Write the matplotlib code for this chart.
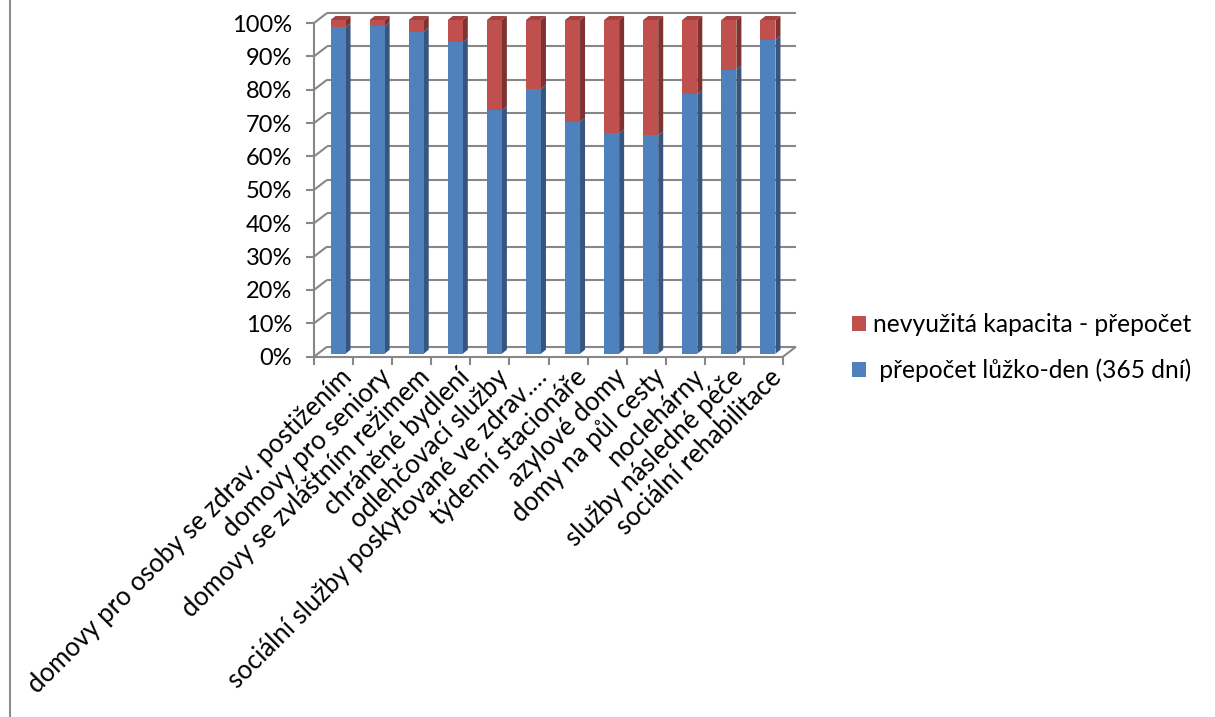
import matplotlib
matplotlib.use("Agg")
import matplotlib.pyplot as plt
from matplotlib.patches import Polygon, Patch
from matplotlib.lines import Line2D
from matplotlib.transforms import ScaledTranslation, IdentityTransform

# ---------------- data ----------------
categories = [
    "domovy pro osoby se zdrav. postižením",
    "domovy pro seniory",
    "domovy se zvláštním režimem",
    "chráněné bydlení",
    "odlehčovací služby",
    "sociální služby poskytované ve zdrav.…",
    "týdenní stacionáře",
    "azylové domy",
    "domy na půl cesty",
    "noclehárny",
    "služby následné péče",
    "sociální rehabilitace",
]
used_pct = [97.8, 98.1, 96.5, 93.3, 72.9, 79.4, 69.5, 66.0, 65.4, 77.7, 85.1, 94.0]
unused_pct = [2.2, 1.9, 3.5, 6.7, 27.1, 20.6, 30.5, 34.0, 34.6, 22.3, 14.9, 6.0]
series_used = " přepočet lůžko-den (365 dní)"
series_unused = "nevyužitá kapacita - přepočet"
yticks = [0, 10, 20, 30, 40, 50, 60, 70, 80, 90, 100]
ytick_labels = ["0%", "10%", "20%", "30%", "40%", "50%", "60%", "70%", "80%", "90%", "100%"]

# ---------------- style ----------------
W, H, DPI = 1215, 717, 100
FONT = ["Lato", "DejaVu Sans"]
plt.rcParams["font.family"] = FONT
FS_Y = 17
FS_CAT = 18.5
FS_LEG = 17.7
GRID = "#878787"
LW = 1.5
BLUE, BLUE_SIDE = "#4F81BD", "#36557F"
RED, RED_SIDE, RED_TOP = "#C0504D", "#7E3331", "#A24341"
BACK = (13, 10)      # depth of the back wall (px, display coords)
BAR_OFF = (4.5, 3)   # bar front face offset from front plane
BAR_DEPTH = (5, 4)   # bar depth
BAR_W = 0.384

fig = plt.figure(figsize=(W / DPI, H / DPI), dpi=DPI)
left_px, right_px, bot_px, top_px = 314, 783, 356.7, 23
ax = fig.add_axes([left_px / W, (H - bot_px) / H, (right_px - left_px) / W, (bot_px - top_px) / H])
n = len(categories)
ax.set_xlim(-0.5, n - 0.5)
ax.set_ylim(0, 100)
for s in ax.spines.values():
    s.set_visible(False)
ax.set_facecolor("none")

# y axis ticks and labels
ax.set_yticks(yticks)
ax.set_yticklabels(ytick_labels, fontsize=FS_Y, color="black")
ax.tick_params(axis="y", direction="out", length=8 * 0.72, width=LW, color=GRID, pad=14 * 0.72)
# x axis: ticks at category boundaries, labels placed manually
ax.set_xticks([i - 0.5 for i in range(n + 1)])
ax.set_xticklabels([])
ax.tick_params(axis="x", direction="out", length=8 * 0.72, width=LW, color=GRID)

def D(x, y, off=(0, 0)):
    px, py = ax.transData.transform((x, y))
    return (px + off[0], py + off[1])

def line(pts, z=1):
    xs = [p[0] for p in pts]
    ys = [p[1] for p in pts]
    fig.add_artist(Line2D(xs, ys, transform=IdentityTransform(), color=GRID, lw=LW,
                          zorder=z, solid_capstyle="butt"))

x0, x1 = -0.5, n - 0.5
# back wall gridlines and left wall diagonals
for yv in yticks:
    line([D(x0, yv, BACK), D(x1, yv, BACK)])
    line([D(x0, yv), D(x0, yv, BACK)])
# floor
line([D(x0, 0), D(x1, 0)])
line([D(x1, 0), D(x1, 0, BACK)])
# front vertical axis
line([D(x0, 0), D(x0, 100)], z=2)

def add_poly(pts, color, z):
    fig.add_artist(Polygon(pts, closed=True, transform=IdentityTransform(), facecolor=color,
                           edgecolor="none", zorder=z))

od = (BAR_OFF[0] + BAR_DEPTH[0], BAR_OFF[1] + BAR_DEPTH[1])
for i in range(n):
    xl, xr = i - BAR_W / 2, i + BAR_W / 2
    segs = [(0, used_pct[i], BLUE, BLUE_SIDE), (used_pct[i], used_pct[i] + unused_pct[i], RED, RED_SIDE)]
    for b, t, cf, cs in segs:
        # side face
        add_poly([D(xr, b, BAR_OFF), D(xr, t, BAR_OFF), D(xr, t, od), D(xr, b, od)], cs, 3)
        # front face
        add_poly([D(xl, b, BAR_OFF), D(xr, b, BAR_OFF), D(xr, t, BAR_OFF), D(xl, t, BAR_OFF)], cf, 4)
    top = used_pct[i] + unused_pct[i]
    add_poly([D(xl, top, BAR_OFF), D(xr, top, BAR_OFF), D(xr, top, od), D(xl, top, od)], RED_TOP, 4)

# category labels
lab_tr = ax.get_xaxis_transform() + ScaledTranslation(20 / DPI, -22 / DPI, fig.dpi_scale_trans)
for i, c in enumerate(categories):
    ax.text(i, 0, c, transform=lab_tr, rotation=45, rotation_mode="anchor",
            ha="right", va="baseline", fontsize=FS_CAT, color="black")

# legend
handles = [Patch(facecolor=RED, edgecolor="none"), Patch(facecolor=BLUE, edgecolor="none")]
fig.legend(handles, [series_unused, series_used], loc="center left",
           bbox_to_anchor=(852 / W, (H - 347.5) / H), frameon=False, fontsize=FS_LEG,
           handlelength=0.58, handleheight=0.58, handletextpad=0.28, labelspacing=0.9,
           borderpad=0, borderaxespad=0)

# chart area left border
fig.add_artist(Line2D([9.5 / W, 9.5 / W], [0, 1], color="#8C8C8C", lw=1.5))

fig.savefig("out.png", dpi=DPI)
